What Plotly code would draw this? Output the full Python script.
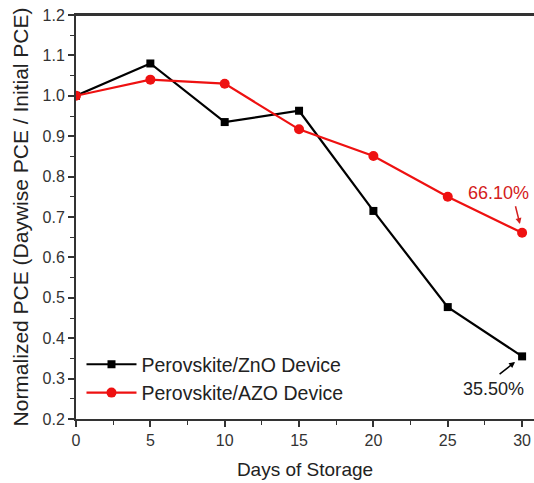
import plotly.graph_objects as go

days = [0, 5, 10, 15, 20, 25, 30]
zno = [1.0, 1.08, 0.935, 0.963, 0.715, 0.477, 0.355]
azo = [1.0, 1.04, 1.03, 0.917, 0.851, 0.75, 0.661]
x_ticks = [0, 5, 10, 15, 20, 25, 30]
y_ticks = [0.2, 0.3, 0.4, 0.5, 0.6, 0.7, 0.8, 0.9, 1.0, 1.1, 1.2]

FONT = "Liberation Sans, Arial, sans-serif"
RED = "#ee1111"

fig = go.Figure()
fig.add_trace(go.Scatter(x=days, y=zno, mode="lines+markers", name="Perovskite/ZnO Device",
                         line=dict(color="black", width=2.2),
                         marker=dict(symbol="square", size=8, color="black")))
fig.add_trace(go.Scatter(x=days, y=azo, mode="lines+markers", name="Perovskite/AZO Device",
                         line=dict(color=RED, width=2.2),
                         marker=dict(symbol="circle", size=10, color=RED)))

annotations = [
    dict(x=28.4, y=0.76, xref="x", yref="y", text="66.10%", showarrow=False,
         font=dict(color="#d42020", size=18, family=FONT)),
    dict(x=28.1, y=0.275, xref="x", yref="y", text="35.50%", showarrow=False,
         font=dict(color="#222", size=18, family=FONT)),
    dict(x=30, y=azo[-1], xref="x", yref="y", text="", showarrow=True, arrowhead=2,
         arrowsize=0.8, arrowwidth=1.5, arrowcolor="#d42020", ax=-7, ay=-28, standoff=9),
    dict(x=30, y=zno[-1], xref="x", yref="y", text="", showarrow=True, arrowhead=2,
         arrowsize=0.8, arrowwidth=1.5, arrowcolor="black", ax=-24, ay=19, standoff=9),
]

fig.update_layout(
    width=534, height=483,
    margin=dict(l=76, r=0, t=15, b=64),
    paper_bgcolor="white", plot_bgcolor="white",
    font=dict(family=FONT, size=16, color="#333"),
    showlegend=True,
    legend=dict(x=0.012, y=0.183, xanchor="left", yanchor="top", bgcolor="rgba(0,0,0,0)",
                font=dict(size=19.5, color="#222"), tracegroupgap=0, itemwidth=50),
    annotations=annotations,
    shapes=[dict(type="line", xref="paper", yref="paper", x0=0, x1=1, y0=1, y1=1,
                 line=dict(color="#333", width=2))],
)

axis_common = dict(ticks="outside", ticklen=6, tickwidth=1.5, showline=True, linewidth=2,
                   linecolor="#333", tickcolor="#333", showgrid=False, zeroline=False,
                   tickfont=dict(size=16, color="#333"))

fig.update_xaxes(range=[0, 30.8], tickvals=x_ticks, mirror=True,
                 minor=dict(dtick=2.5, ticks="outside", ticklen=4, tickwidth=1.2, tickcolor="#333"),
                 title=dict(text="Days of Storage", font=dict(size=19, color="#222"), standoff=14),
                 **axis_common)
fig.update_yaxes(range=[0.2, 1.2], tickvals=y_ticks, tickformat=".1f",
                 minor=dict(dtick=0.05, ticks="outside", ticklen=4, tickwidth=1.2, tickcolor="#333"),
                 title=dict(text="Normalized PCE (Daywise PCE / Initial PCE)", font=dict(size=21, color="#222"), standoff=8),
                 **axis_common)

fig.write_html("out.html", config={"displayModeBar": False},
               post_script="document.body.style.margin='0';")
